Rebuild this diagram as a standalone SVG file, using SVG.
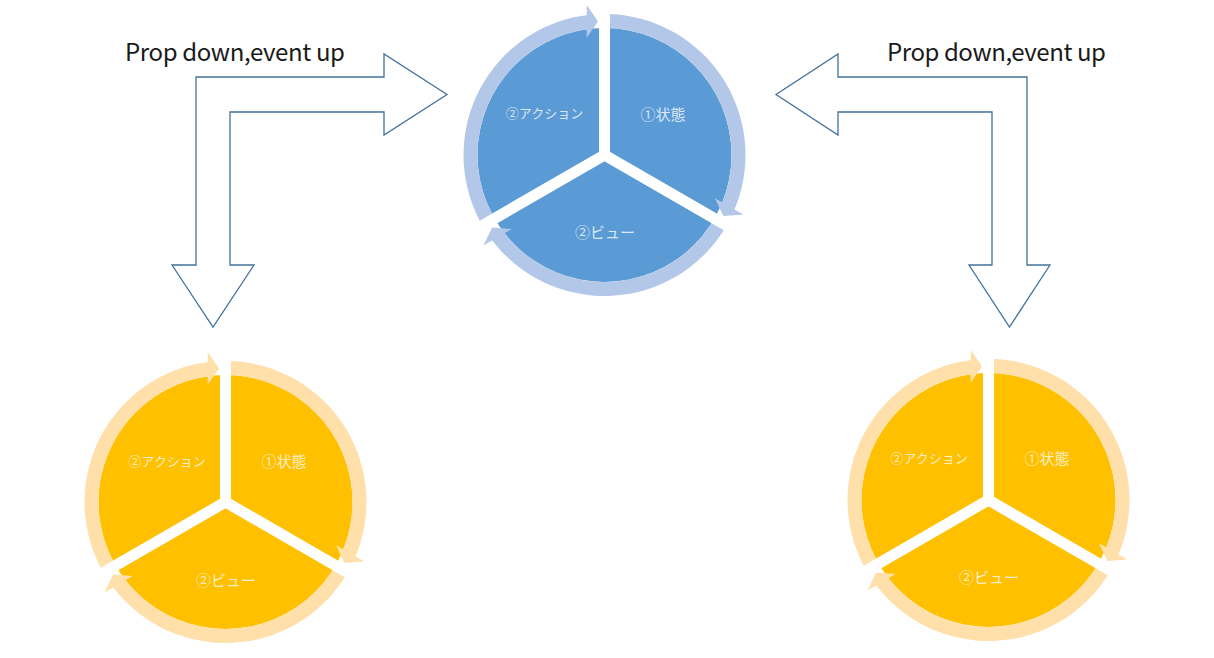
<svg xmlns="http://www.w3.org/2000/svg" width="1214" height="658" viewBox="0 0 1214 658">
<style>
.bg{fill:#ffffff}
.bent{fill:#ffffff;stroke:#41719C;stroke-width:1.3;stroke-linejoin:miter}
.title{font-family:"Noto Sans CJK JP","Noto Sans",sans-serif;font-size:24px;fill:#1a1a1a}
.pie-b{fill:#5B9BD5}
.pie-o{fill:#FFC000}
.ring-b{fill:#B3C8E8}
.ring-o{fill:#FFDFAA}
.gap{stroke:#ffffff;stroke-width:11;fill:none}
.lbl{font-family:"Noto Sans CJK JP","Noto Sans",sans-serif;fill:#ffffff;fill-opacity:0.78;text-anchor:middle}
.big{font-size:15px}
.small{font-size:13px}
</style>
<defs>
<path id="seg" d="M5.5,-140.89 A141,141 0 0,1 128.81,57.35 L116.02,51.66 A127,127 0 0,0 5.5,-126.88 Z"/>
<path id="head" d="M-17.8,-150 L-6.5,-133.5 L-17.8,-117.3 Z"/>
<path id="gaps" d="M0,0 V-150 M0,0 L129.9,75 M0,0 L-129.9,75"/>
<g id="ring">
<use href="#seg"/>
<use href="#seg" transform="rotate(120)"/>
<use href="#seg" transform="rotate(240)"/>
<use href="#head"/>
<use href="#head" transform="rotate(120)"/>
<use href="#head" transform="rotate(240)"/>
</g>
</defs>
<rect class="bg" x="0" y="0" width="1214" height="658"/>

<g id="connectors">
<g id="arrow-left">
<path class="bent" d="M196,77 L384,77 L384,54 L447,94.5 L384,135 L384,112 L230,112 L230,265 L254,265 L213,327 L172,265 L196,265 Z"/>
<text class="title" x="125" y="61" textLength="220" lengthAdjust="spacing">Prop down,event up</text>
</g>
<g id="arrow-right">
<path class="bent" d="M776,94.5 L838,54 L838,77 L1027,77 L1027,265 L1050,265 L1009.5,327 L969,265 L992,265 L992,112 L838,112 L838,135 Z"/>
<text class="title" x="887" y="61" textLength="219" lengthAdjust="spacing">Prop down,event up</text>
</g>
</g>

<g id="cycle-top" transform="translate(604.5,155)">
<circle class="pie-b" r="127"/>
<use href="#gaps" class="gap"/>
<use href="#ring" class="ring-b"/>
<text class="lbl big" x="58.5" y="-35">①状態</text>
<text class="lbl small" x="-60" y="-37">②アクション</text>
<text class="lbl big" x="0.5" y="82.5">②ビュー</text>
</g>

<g id="cycle-left" transform="translate(225.5,502)">
<circle class="pie-o" r="127"/>
<use href="#gaps" class="gap"/>
<use href="#ring" class="ring-o"/>
<text class="lbl big" x="58.5" y="-35.5">①状態</text>
<text class="lbl small" x="-58.5" y="-36">②アクション</text>
<text class="lbl big" x="0.5" y="83.5">②ビュー</text>
</g>

<g id="cycle-right" transform="translate(988.5,500)">
<circle class="pie-o" r="127"/>
<use href="#gaps" class="gap"/>
<use href="#ring" class="ring-o"/>
<text class="lbl big" x="58.5" y="-36.5">①状態</text>
<text class="lbl small" x="-59.5" y="-37">②アクション</text>
<text class="lbl big" x="0.5" y="82.5">②ビュー</text>
</g>
</svg>
